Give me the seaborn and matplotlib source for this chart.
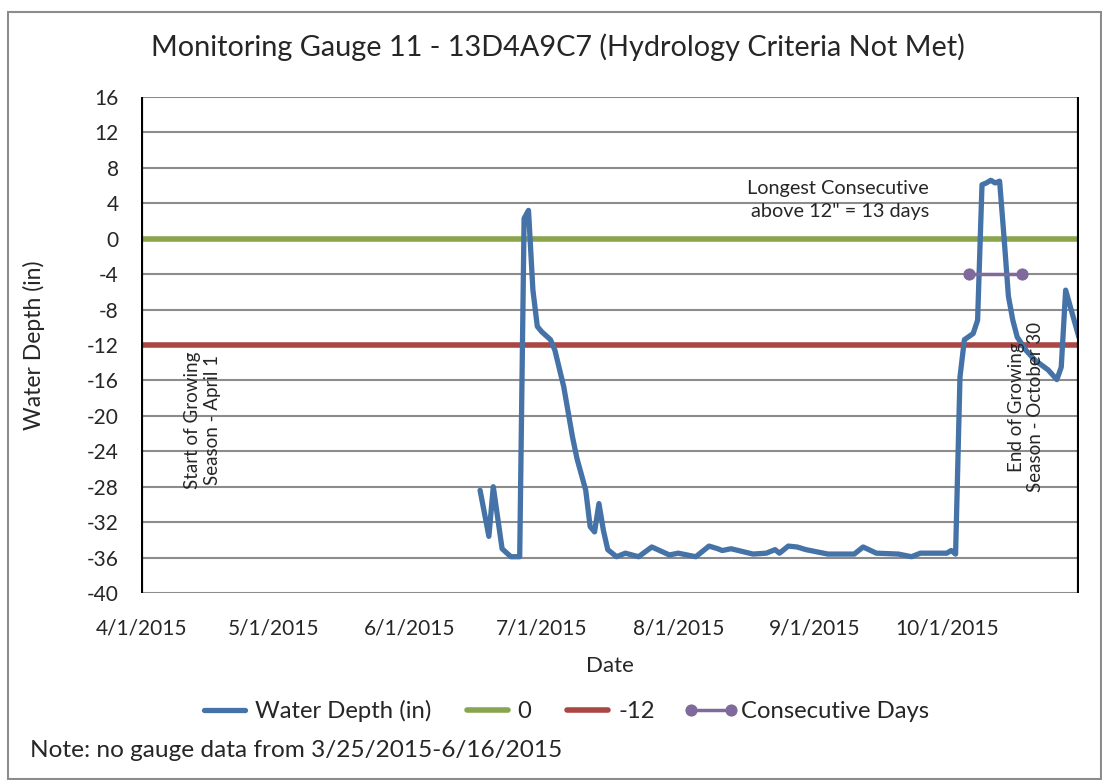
import pandas as pd
import matplotlib.pyplot as plt
import matplotlib.patches as mpatches
import seaborn as sns

# gauge readings (in)
dates = ["2015-06-17", "2015-06-19", "2015-06-20", "2015-06-22", "2015-06-24", "2015-06-26",
         "2015-06-27", "2015-06-28", "2015-06-29", "2015-06-30", "2015-07-01", "2015-07-03",
         "2015-07-04", "2015-07-06", "2015-07-08", "2015-07-09", "2015-07-11", "2015-07-12",
         "2015-07-13", "2015-07-14", "2015-07-15", "2015-07-16", "2015-07-18", "2015-07-20",
         "2015-07-23", "2015-07-26", "2015-07-30", "2015-08-01", "2015-08-05", "2015-08-08",
         "2015-08-10", "2015-08-11", "2015-08-13", "2015-08-18", "2015-08-21", "2015-08-23",
         "2015-08-24", "2015-08-26", "2015-08-28", "2015-08-30", "2015-09-04", "2015-09-10",
         "2015-09-12", "2015-09-15", "2015-09-20", "2015-09-23", "2015-09-25", "2015-10-01",
         "2015-10-02", "2015-10-03", "2015-10-04", "2015-10-05", "2015-10-07", "2015-10-08",
         "2015-10-09", "2015-10-10", "2015-10-11", "2015-10-12", "2015-10-13", "2015-10-14",
         "2015-10-15", "2015-10-16", "2015-10-17", "2015-10-19", "2015-10-21", "2015-10-24",
         "2015-10-26", "2015-10-27", "2015-10-28", "2015-10-31"]
depth = [-28.4, -33.6, -28.0, -35.0, -35.9, -35.9,
         2.3, 3.2, -5.8, -9.9, -10.5, -11.4,
         -12.6, -16.7, -22.4, -24.8, -28.4, -32.5,
         -33.1, -29.9, -32.9, -35.1, -35.9, -35.5,
         -35.9, -34.8, -35.7, -35.5, -35.9, -34.7,
         -35.0, -35.2, -35.0, -35.6, -35.5, -35.1,
         -35.5, -34.7, -34.8, -35.1, -35.6, -35.6,
         -34.8, -35.5, -35.6, -35.9, -35.5, -35.5,
         -35.2, -35.6, -15.6, -11.4, -10.7, -9.2,
         6.1, 6.3, 6.6, 6.3, 6.5, 0.2,
         -6.5, -9.2, -11.1, -12.6, -13.7, -14.8,
         -15.9, -14.5, -5.8, -11.1]

season = ["2015-04-01", "2015-10-31"]
ref_levels = [0, -12]
consec_dates = ["2015-10-06", "2015-10-18"]
consec_level = [-4, -4]

month_ticks = ["2015-04-01", "2015-05-01", "2015-06-01", "2015-07-01",
               "2015-08-01", "2015-09-01", "2015-10-01"]
month_labels = ["4/1/2015", "5/1/2015", "6/1/2015", "7/1/2015",
                "8/1/2015", "9/1/2015", "10/1/2015"]
y_ticks = list(range(-40, 17, 4))

df = pd.DataFrame({"Date": pd.to_datetime(dates), "Depth": depth})
season_d = pd.to_datetime(season)

sns.set_style("white")
plt.rcParams["font.family"] = ["Lato", "DejaVu Sans"]
plt.rcParams["axes.unicode_minus"] = False

fig = plt.figure(figsize=(11.02, 7.8), dpi=100)
ax = fig.add_axes([0.128, 0.2397, 0.851, 0.6359])

blue, green, red, purple = "#4572A7", "#89A54E", "#AA4643", "#80699B"

for lvl, col in zip(ref_levels, [green, red]):
    sns.lineplot(x=season_d, y=[lvl, lvl], color=col, lw=4, label=str(lvl), ax=ax)
sns.lineplot(data=df, x="Date", y="Depth", color=blue, lw=3.8, label="Water Depth (in)", ax=ax)
sns.lineplot(x=pd.to_datetime(consec_dates), y=consec_level, color=purple, lw=2.5,
             marker="o", markersize=8, markeredgecolor=purple, label="Consecutive Days", ax=ax)

# growing season bounds
for d in season_d:
    ax.axvline(d, color="black", lw=3, zorder=5)

ax.set_xlim(season_d[0], season_d[1])
ax.set_ylim(-40, 16)
ax.set_yticks(y_ticks)
ax.set_xticks(pd.to_datetime(month_ticks))
ax.set_xticklabels(month_labels)
ax.yaxis.grid(True, color="#8c8c8c", lw=1.5)
ax.xaxis.grid(False)
ax.set_axisbelow(True)
for s in ax.spines.values():
    s.set_visible(False)
ax.tick_params(axis="both", length=0, labelsize=15)
ax.tick_params(axis="x", pad=18)
ax.tick_params(axis="y", pad=16)
ax.set_xlabel("Date", fontsize=16, labelpad=13)
ax.set_ylabel("Water Depth (in)", fontsize=16.5, labelpad=30)

ax.text(pd.Timestamp("2015-09-27"), 4.4, 'Longest Consecutive\nabove 12" = 13 days',
        ha="right", va="center", fontsize=14.3, linespacing=1.45)
ax.text(pd.Timestamp("2015-04-15"), -20.5, "Start of Growing\nSeason - April 1",
        rotation=90, ha="center", va="center", fontsize=13.5, multialignment="center")
ax.text(pd.Timestamp("2015-10-19"), -19.0, "End of Growing\nSeason - October 30",
        rotation=90, ha="center", va="center", fontsize=13.5, multialignment="center")

fig.text(0.506, 0.94, "Monitoring Gauge 11 - 13D4A9C7 (Hydrology Criteria Not Met)",
         fontsize=20.8, ha="center", va="center")

h, l = ax.get_legend_handles_labels()
order = [2, 0, 1, 3]
ax.get_legend().remove()
fig.legend([h[i] for i in order], [l[i] for i in order], loc="center",
           bbox_to_anchor=(0.511, 0.088), ncol=4, frameon=False, fontsize=17.2,
           handlelength=2.3, handletextpad=0.12, columnspacing=1.2, numpoints=2)

fig.text(0.027, 0.038, "Note: no gauge data from 3/25/2015-6/16/2015", fontsize=17.6, va="center")

fig.patches.append(mpatches.Rectangle((0.0073, 0.0015), 0.992, 0.983, transform=fig.transFigure,
                                      fill=False, ec="#8c8c8c", lw=1.5))

fig.savefig("out.png", dpi=100)
